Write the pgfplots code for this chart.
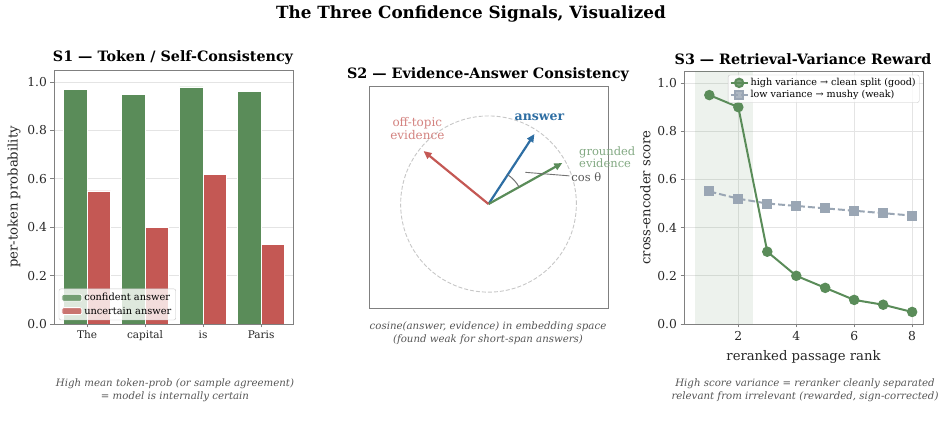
\documentclass[border=0pt]{standalone}
\usepackage{pgfplots}
\pgfplotsset{compat=1.18}
\usepackage{fontspec}
\setmainfont{DejaVu Serif}
\usetikzlibrary{arrows.meta}

\definecolor{cgreen}{HTML}{5A8C59}
\definecolor{cred}{HTML}{C45854}
\definecolor{cblue}{HTML}{2E6EA3}
\definecolor{cgray}{HTML}{9AA6B4}
\definecolor{frame}{HTML}{808080}
\definecolor{gridc}{HTML}{E4E4E4}
\definecolor{captc}{HTML}{555555}

\newcommand\fsz[2]{\fontsize{#1bp}{#2bp}\selectfont}

\pgfplotsset{
  panel/.style={
    scale only axis,
    width=239bp,
    axis line style={frame, line width=0.9bp},
    tick style={frame, line width=0.8bp},
    tick align=outside,
    major tick length=3.5bp,
    xtick pos=bottom, ytick pos=left,
    grid style={gridc, line width=0.8bp},
    /pgf/number format/assume math mode=true,
    ticklabel style={font=\fsz{12.3}{14}, text=black!85},
    label style={font=\fsz{13.2}{15}, text=black!85},
  },
}

\begin{document}
\begin{tikzpicture}
\path[use as bounding box] (0,0) rectangle (942bp,435bp);

% overall title
\node[font=\bfseries\fsz{16.8}{19}] at (471bp,421bp) {The Three Confidence Signals, Visualized};

% ---------------- S1: token probabilities ----------------
\node[font=\bfseries\fsz{14.3}{16}] at (173bp,377bp) {S1 — Token / Self-Consistency};
\begin{axis}[panel,
  at={(54bp,111bp)}, anchor=south west, height=254bp,
  xmin=-0.57, xmax=3.55, ymin=0, ymax=1.05,
  xtick={0,1,2,3}, xticklabels={The,capital,is,Paris},
  xticklabel style={font=\fsz{10.5}{12}},
  ytick={0,0.2,0.4,0.6,0.8,1.0},
  yticklabel style={/pgf/number format/.cd, fixed, fixed zerofill, precision=1},
  ymajorgrids,
  ylabel={per-token probability},
  legend cell align=left,
  legend style={at={(0.02,0.015)}, anchor=south west, draw=gray!45,
    rounded corners=2pt, fill=white, fill opacity=0.8, text opacity=1,
    font=\fsz{9.8}{11}, inner sep=2.5bp, row sep=0.5bp},
  legend image code/.code={\fill[#1] (0bp,-3.5bp) rectangle (20bp,3.5bp);},
]
\addplot[ybar, bar width=0.4, bar shift=-0.2, fill=cgreen, draw=white, line width=0.8bp]
  coordinates {(0,0.97) (1,0.95) (2,0.98) (3,0.96)};
\addlegendentry{confident answer}
\addplot[ybar, bar width=0.4, bar shift=0.2, fill=cred, draw=white, line width=0.8bp]
  coordinates {(0,0.55) (1,0.40) (2,0.62) (3,0.33)};
\addlegendentry{uncertain answer}
\end{axis}
\node[font=\itshape\fsz{10.2}{13}, text=captc, align=center] at (175bp,45bp)
  {High mean token-prob (or sample agreement)\\= model is internally certain};

% ---------------- S2: embedding-space vectors ----------------
\node[font=\bfseries\fsz{14.3}{16}] at (488bp,360bp) {S2 — Evidence-Answer Consistency};
\begin{axis}[panel,
  at={(369bp,127bp)}, anchor=south west, height=222bp,
  xmin=-1.36, xmax=1.36, ymin=-1.18, ymax=1.34,
  xtick=\empty, ytick=\empty,
  clip=false,
]
\draw[color=black!22, line width=0.9bp, dash pattern=on 4bp off 2bp]
  (axis cs:0,0) circle[radius=1];
% answer, grounded evidence, off-topic evidence
\addplot[cblue, line width=2.2bp, -{Stealth[length=8bp,width=7bp,inset=0bp]}]
  coordinates {(0,0) (0.523,0.795)};
\addplot[cgreen, line width=2.2bp, -{Stealth[length=8bp,width=7bp,inset=0bp]}]
  coordinates {(0,0) (0.84,0.466)};
\addplot[cred, line width=2.2bp, -{Stealth[length=8bp,width=7bp,inset=0bp]}]
  coordinates {(0,0) (-0.739,0.602)};
% angle between answer and grounded evidence
\draw[black!55, line width=1bp] (axis cs:0,0) ++(29:35bp) arc[start angle=29, end angle=57, radius=35bp];
\draw[black!55, line width=0.9bp] (axis cs:0.42,0.36) -- (axis cs:0.92,0.32);
\node[font=\fsz{11.5}{13}, text=black!65, anchor=west, inner sep=1bp] at (axis cs:0.93,0.31) {cos θ};
\node[font=\bfseries\fsz{12.5}{14}, text=cblue] at (axis cs:0.58,0.98) {answer};
\node[font=\fsz{12}{13}, text=cred!75, align=center] at (axis cs:-0.81,0.86) {off-topic\\evidence};
\node[font=\fsz{11.5}{12.5}, text=cgreen!75, align=left, anchor=west, inner sep=0bp] at (axis cs:1.03,0.53) {grounded\\evidence};
\end{axis}
\node[font=\itshape\fsz{10.2}{13}, text=captc, align=center] at (488bp,102bp)
  {cosine(answer, evidence) in embedding space\\(found weak for short-span answers)};

% ---------------- S3: reranker score curves ----------------
\node[font=\bfseries\fsz{14.3}{16}] at (803bp,376bp) {S3 — Retrieval-Variance Reward};
\begin{axis}[panel,
  at={(684bp,111bp)}, anchor=south west, height=253bp,
  xmin=0.125, xmax=8.375, ymin=0, ymax=1.05,
  xtick={2,4,6,8},
  ytick={0,0.2,0.4,0.6,0.8,1.0},
  yticklabel style={/pgf/number format/.cd, fixed, fixed zerofill, precision=1},
  xmajorgrids, ymajorgrids,
  xlabel={reranked passage rank},
  ylabel={cross-encoder score},
  xlabel style={yshift=-3bp},
  legend cell align=left,
  legend style={at={(0.985,0.985)}, anchor=north east, draw=gray!45,
    rounded corners=2pt, fill=white, fill opacity=0.8, text opacity=1,
    font=\fsz{9.6}{11}, inner sep=1.5bp, row sep=-1bp},
]
\fill[cgreen, opacity=0.11] (axis cs:0.5,0) rectangle (axis cs:2.5,1.05);
\addplot[cgreen, line width=2bp, mark=*, mark size=4.2bp, mark options={solid, fill=cgreen, draw=cgreen}]
  coordinates {(1,0.95) (2,0.90) (3,0.30) (4,0.20) (5,0.15) (6,0.10) (7,0.08) (8,0.05)};
\addlegendentry{high variance → clean split (good)}
\addplot[cgray, line width=2bp, dash pattern=on 7bp off 3bp, mark=square*, mark size=4bp,
  mark options={solid, fill=cgray, draw=cgray}]
  coordinates {(1,0.55) (2,0.52) (3,0.50) (4,0.49) (5,0.48) (6,0.47) (7,0.46) (8,0.45)};
\addlegendentry{low variance → mushy (weak)}
\end{axis}
\node[font=\itshape\fsz{10.2}{13}, text=captc, align=center] at (805bp,45bp)
  {High score variance = reranker cleanly separated\\relevant from irrelevant (rewarded, sign-corrected)};
\end{tikzpicture}
\end{document}
